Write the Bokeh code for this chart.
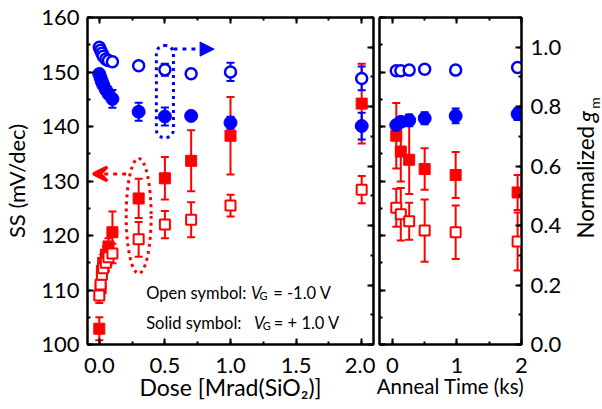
import math
from bokeh.plotting import figure
from bokeh.layouts import row
from bokeh.models import (Range1d, LinearAxis, SingleIntervalTicker, NumeralTickFormatter,
                          CustomJSTickFormatter, Label, Arrow, NormalHead, VeeHead)
from bokeh.embed import file_html
from bokeh.resources import INLINE

FONT = "Lato"
RED = "#ff0000"
BLUE = "#0000ff"

# ---------------- data: total dose panel ----------------
dose = [0, 0.01, 0.02, 0.03, 0.05, 0.07, 0.1, 0.3, 0.5, 0.7, 1.0, 2.0]
ss_solid = [102.9, 110.3, 113.5, 115.0, 116.5, 118.0, 120.6, 126.8, 130.5, 133.7, 138.3, 144.2]
ss_solid_err = [2.1, 1.5, 1.5, 1.5, 1.5, 1.5, 3.8, 3.6, 3.9, 5.6, 7.1, 7.3]
ss_open = [109.0, 111.0, 112.8, 114.0, 115.0, 116.0, 116.7, 119.3, 122.0, 122.9, 125.5, 128.4]
ss_open_err = [1.4, 1.5, 1.5, 1.5, 1.5, 1.5, 1.8, 3.2, 2.5, 3.2, 2.0, 2.5]
gm_open = [1.0, 0.99, 0.98, 0.97, 0.96, 0.955, 0.951, 0.938, 0.924, 0.911, 0.917, 0.895]
gm_open_err = [0.005, 0.005, 0.005, 0.005, 0.005, 0.005, 0.008, 0.012, 0.02, 0.006, 0.031, 0.04]
gm_solid = [0.91, 0.897, 0.884, 0.873, 0.857, 0.843, 0.826, 0.783, 0.767, 0.769, 0.746, 0.735]
gm_solid_err = [0.008, 0.008, 0.008, 0.008, 0.01, 0.01, 0.03, 0.03, 0.03, 0.01, 0.02, 0.045]

# ---------------- data: anneal panel ----------------
anneal_t = [0.06, 0.13, 0.26, 0.5, 0.98, 1.94]
ann_ss_solid = [138.3, 135.4, 133.9, 132.2, 131.1, 127.9]
ann_ss_solid_err = [6.0, 5.5, 6.3, 3.8, 4.2, 3.2]
ann_ss_open = [125.1, 123.9, 122.6, 120.9, 120.6, 118.9]
ann_ss_open_err = [3.5, 4.8, 3.4, 5.7, 4.9, 5.3]
ann_gm_open = [0.921, 0.921, 0.923, 0.926, 0.923, 0.932]
ann_gm_open_err = [0.005, 0.005, 0.005, 0.005, 0.006, 0.008]
ann_gm_solid = [0.738, 0.749, 0.754, 0.761, 0.769, 0.775]
ann_gm_solid_err = [0.01, 0.015, 0.02, 0.02, 0.025, 0.02]

SS_RANGE = (100, 160)
GM_RANGE = (0, 1.1)
H = 409


def style_axis(ax, show_labels=True, fmt="0.0"):
    ax.axis_line_width = 2
    ax.axis_line_color = "black"
    ax.major_tick_line_width = 2
    ax.minor_tick_line_width = 2
    ax.major_tick_in = 6
    ax.major_tick_out = 0
    ax.minor_tick_in = 3
    ax.minor_tick_out = 0
    ax.major_label_text_font = FONT
    ax.axis_label_text_font = FONT
    ax.axis_label_text_font_style = "normal"
    ax.axis_label_text_font_size = "22px"
    ax.axis_label_text_color = "black"
    ax.major_label_text_color = "black"
    if show_labels:
        ax.major_label_text_font_size = "22px"
        ax.formatter = NumeralTickFormatter(format=fmt)
    else:
        ax.major_label_text_font_size = "1px"
        ax.formatter = CustomJSTickFormatter(code="return ''")
        ax.major_label_standoff = 0


def errbars(p, x, y, e, color, rng="default"):
    lo = [a - b for a, b in zip(y, e)]
    hi = [a + b for a, b in zip(y, e)]
    p.segment(x0=x, y0=lo, x1=x, y1=hi, line_color=color, line_width=2, y_range_name=rng)
    p.scatter(x=list(x) + list(x), y=lo + hi, marker="dash", size=8,
              line_color=color, line_width=2, y_range_name=rng)


def base_fig(width, xr, bl, br):
    p = figure(width=width, height=H, x_range=Range1d(*xr), y_range=Range1d(*SS_RANGE),
               x_axis_type=None, y_axis_type=None, output_backend="svg",
               toolbar_location=None, min_border_left=bl, min_border_right=br,
               min_border_top=17, min_border_bottom=65)
    p.extra_y_ranges = {"gm": Range1d(*GM_RANGE)}
    p.outline_line_color = "black"
    p.outline_line_width = 2
    p.background_fill_color = "white"
    p.border_fill_color = "white"
    return p


def draw_series(p, x, ssS, ssSe, ssO, ssOe, gmO, gmOe, gmS, gmSe):
    errbars(p, x, ssO, ssOe, RED)
    errbars(p, x, ssS, ssSe, RED)
    p.scatter(x=x, y=ssS, marker="square", size=11, fill_color=RED, line_color=RED)
    p.scatter(x=x, y=ssO, marker="square", size=10, fill_color="white",
              line_color=RED, line_width=2)
    errbars(p, x, gmO, gmOe, BLUE, "gm")
    errbars(p, x, gmS, gmSe, BLUE, "gm")
    p.scatter(x=x, y=gmS, marker="circle", size=13, fill_color=BLUE, line_color=BLUE,
              y_range_name="gm")
    p.scatter(x=x, y=gmO, marker="circle", size=11, fill_color="white", line_color=BLUE,
              line_width=2.5, y_range_name="gm")


def txt(p, x, y, s, size="16.5px", style="normal", align="left", baseline="alphabetic", **kw):
    p.add_layout(Label(x=x, y=y, text=s, text_font=FONT, text_font_size=size,
                       text_font_style=style, text_color="black",
                       text_baseline=baseline, text_align=align, **kw))


# ---------------- left panel: dose ----------------
p1 = base_fig(375, (-0.09, 2.09), 86, 2)
ax_b = LinearAxis(ticker=SingleIntervalTicker(interval=0.5, num_minor_ticks=2),
                  axis_label="Dose [Mrad(SiO\u2082)]")
style_axis(ax_b, True, "0.0")
ax_b.axis_label_text_font_size = "23px"
ax_b.major_label_standoff = 13
ax_b.axis_label_standoff = -3
p1.add_layout(ax_b, "below")
ax_t = LinearAxis(ticker=SingleIntervalTicker(interval=0.5, num_minor_ticks=2))
style_axis(ax_t, False)
p1.add_layout(ax_t, "above")
ax_l = LinearAxis(ticker=SingleIntervalTicker(interval=10, num_minor_ticks=2),
                  axis_label="SS (mV/dec)")
style_axis(ax_l, True, "0")
ax_l.major_label_standoff = 8
ax_l.axis_label_standoff = 8
p1.add_layout(ax_l, "left")
ax_r = LinearAxis(ticker=SingleIntervalTicker(interval=0.2, num_minor_ticks=2),
                  y_range_name="gm")
style_axis(ax_r, False)
p1.add_layout(ax_r, "right")

draw_series(p1, dose, ss_solid, ss_solid_err, ss_open, ss_open_err,
            gm_open, gm_open_err, gm_solid, gm_solid_err)

# annotation shapes (dotted outlines + arrows)
p1.ellipse(x=[0.30], y=[123.6], width=0.19, height=21.1, fill_alpha=0,
           line_color=RED, line_width=3, line_dash="3 4")
p1.rect(x=[0.50], y=[146.4], width=0.13, height=16.9, fill_alpha=0,
        line_color=BLUE, line_width=3, line_dash="3 4", border_radius=8)
p1.add_layout(Arrow(x_start=0.205, y_start=131.3, x_end=-0.046, y_end=131.3,
                    line_color=RED, line_width=3, line_dash="4 5",
                    end=VeeHead(size=14, line_color=RED, line_width=3, fill_color=RED)))
p1.add_layout(Arrow(x_start=0.565, y_start=154.2, x_end=0.875, y_end=154.2,
                    line_color=BLUE, line_width=3, line_dash="4 5",
                    end=NormalHead(size=14, line_color=BLUE, fill_color=BLUE)))

# legend text
txt(p1, 0.357, 109.5, "Open symbol:")
txt(p1, 1.156, 109.5, "V", style="italic")
txt(p1, 1.222, 108.9, "G", size="11px")
txt(p1, 1.325, 109.5, "= -1.0 V")
txt(p1, 0.357, 104.0, "Solid symbol:")
txt(p1, 1.179, 104.0, "V", style="italic")
txt(p1, 1.245, 103.4, "G", size="11px")
txt(p1, 1.33, 104.0, "= + 1.0 V")

# ---------------- right panel: anneal ----------------
p2 = base_fig(189, (-0.2, 2.0), 4, 41)
bx_b = LinearAxis(ticker=SingleIntervalTicker(interval=1, num_minor_ticks=2),
                  axis_label="Anneal Time (ks)")
style_axis(bx_b, True, "0")
bx_b.axis_label_text_font_size = "20.5px"
bx_b.major_label_standoff = 13
bx_b.axis_label_standoff = -2
p2.add_layout(bx_b, "below")
bx_t = LinearAxis(ticker=SingleIntervalTicker(interval=1, num_minor_ticks=2))
style_axis(bx_t, False)
p2.add_layout(bx_t, "above")
bx_l = LinearAxis(ticker=SingleIntervalTicker(interval=10, num_minor_ticks=2))
style_axis(bx_l, False)
p2.add_layout(bx_l, "left")
bx_r = LinearAxis(ticker=SingleIntervalTicker(interval=0.2, num_minor_ticks=2),
                  y_range_name="gm")
style_axis(bx_r, True, "0.0")
bx_r.major_label_standoff = 9
p2.add_layout(bx_r, "right")

draw_series(p2, anneal_t, ann_ss_solid, ann_ss_solid_err, ann_ss_open, ann_ss_open_err,
            ann_gm_open, ann_gm_open_err, ann_gm_solid, ann_gm_solid_err)

# ---------------- strip holding the rotated right-axis title ----------------
X0 = 564  # page x of this strip's left edge
p3 = figure(width=38, height=H, x_range=Range1d(0, 38), y_range=Range1d(0, H),
            x_axis_type=None, y_axis_type=None, output_backend="svg",
            toolbar_location=None, min_border=0, min_border_left=0, min_border_right=0,
            min_border_top=0, min_border_bottom=0)
p3.outline_line_color = None
p3.background_fill_color = "white"
p3.border_fill_color = "white"
ROT = math.pi / 2
txt(p3, 585 - X0, H - 206, "Normalized", size="22.5px", align="center", baseline="middle", angle=ROT)
txt(p3, 585 - X0, H - 124, "g", size="23px", style="italic", align="center", baseline="middle", angle=ROT)
txt(p3, 593.5 - X0, H - 107, "m", size="14px", align="center", baseline="middle", angle=ROT)

layout = row(p1, p2, p3)
open("out.html", "w").write(file_html(layout, INLINE))
